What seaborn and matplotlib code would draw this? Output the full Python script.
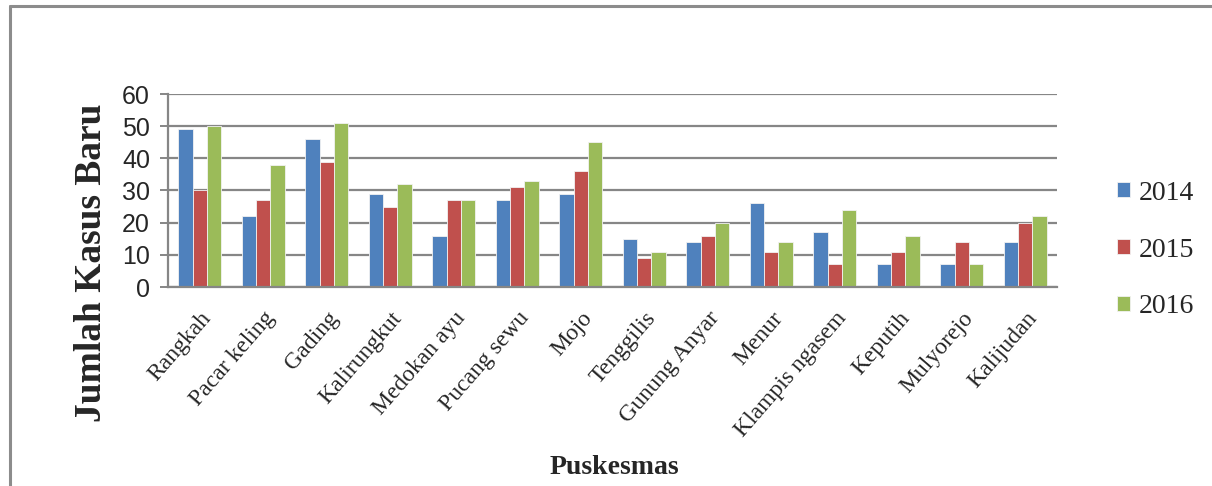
import matplotlib
matplotlib.use("Agg")
import matplotlib.pyplot as plt
from matplotlib.lines import Line2D
import seaborn as sns
import pandas as pd

categories = ["Rangkah", "Pacar keling", "Gading", "Kalirungkut", "Medokan ayu",
              "Pucang sewu", "Mojo", "Tenggilis", "Gunung Anyar", "Menur",
              "Klampis ngasem", "Keputih", "Mulyorejo", "Kalijudan"]
years = ["2014", "2015", "2016"]
v2014 = [49, 22, 46, 29, 16, 27, 29, 15, 14, 26, 17, 7, 7, 14]
v2015 = [30, 27, 39, 25, 27, 31, 36, 9, 16, 11, 7, 11, 14, 20]
v2016 = [50, 38, 51, 32, 27, 33, 45, 11, 20, 14, 24, 16, 7, 22]
yticks = [0, 10, 20, 30, 40, 50, 60]

colors = ["#4F81BD", "#C0504D", "#9BBB59"]

rows = []
for yr, vals in zip(years, [v2014, v2015, v2016]):
    for c, v in zip(categories, vals):
        rows.append({"Puskesmas": c, "Tahun": yr, "Jumlah": v})
df = pd.DataFrame(rows)

sns.set_theme(style="white")
plt.rcParams["font.family"] = ["Liberation Serif", "DejaVu Serif"]

W, H = 1212, 486
fig = plt.figure(figsize=(W / 100, H / 100), dpi=100)
ax = fig.add_axes([168 / W, 1 - 287 / H, (1057 - 168) / W, (287 - 94) / H])

sns.barplot(data=df, x="Puskesmas", y="Jumlah", hue="Tahun", order=categories,
            hue_order=years, palette=colors, width=0.68, ax=ax,
            edgecolor="#f2f2f2", linewidth=0.6, saturation=1, legend=True)

grid_c = "#868686"
ax.set_ylim(0, 60)
ax.set_xlim(-0.5, len(categories) - 0.5)
ax.set_yticks(yticks)
ax.set_yticklabels([str(t) for t in yticks],
                   fontfamily=["Liberation Sans Narrow", "Liberation Sans"], fontsize=18)
ax.yaxis.grid(True, color=grid_c, linewidth=1.6)
ax.set_axisbelow(True)
ax.tick_params(axis="y", which="both", left=True, length=6, width=1.4, color=grid_c, pad=7)
ax.tick_params(axis="x", bottom=False, pad=9)
for s in ["top", "right"]:
    ax.spines[s].set_visible(False)
for s in ["left", "bottom"]:
    ax.spines[s].set_color(grid_c)
    ax.spines[s].set_linewidth(1.6)

ax.set_xticks(range(len(categories)))
ax.set_xticklabels(categories, rotation=49, ha="right", rotation_mode="anchor", fontsize=17)
ax.set_xlabel("")
ax.set_ylabel("")

fig.text(92 / W, 1 - 263 / H, "Jumlah Kasus Baru", rotation=90, ha="center", va="center",
         fontsize=27, fontweight="bold")
fig.text(614 / W, 1 - 468 / H, "Puskesmas", ha="center", va="center",
         fontsize=20, fontweight="bold")

leg = ax.legend(loc="center left", bbox_to_anchor=(1117 / W, 1 - 250 / H),
                bbox_transform=fig.transFigure, frameon=False, fontsize=20,
                handlelength=0.45, handleheight=0.45, handletextpad=0.35,
                labelspacing=1.15, borderpad=0, borderaxespad=0)

# outer border of the original picture
fig.add_artist(Line2D([10 / W, 1.0], [1 - 6 / H, 1 - 6 / H], transform=fig.transFigure,
                      color="#8c8c8c", linewidth=2.2))
fig.add_artist(Line2D([10 / W, 10 / W], [0.0, 1 - 6 / H], transform=fig.transFigure,
                      color="#8c8c8c", linewidth=2.2))

fig.savefig("out.png", dpi=100, facecolor="white")
